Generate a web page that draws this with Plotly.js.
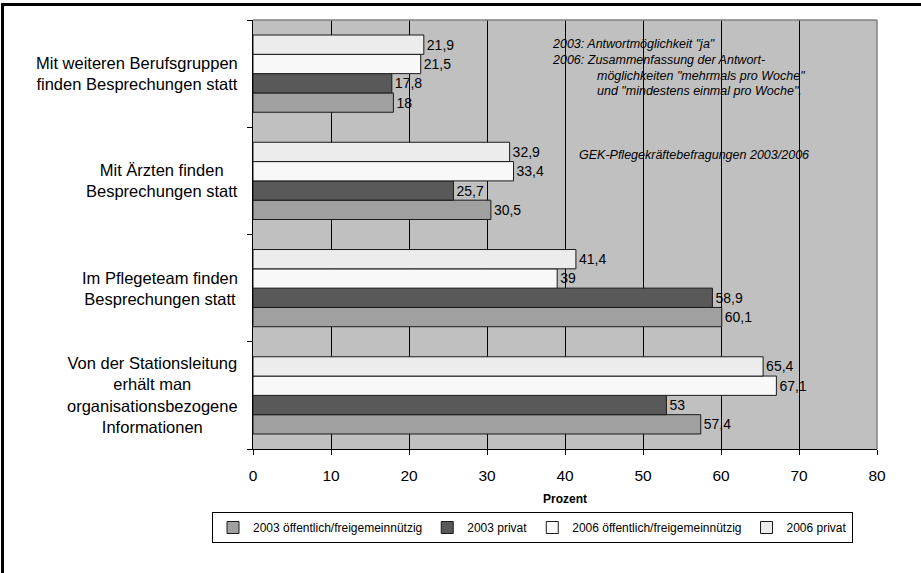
<!DOCTYPE html>
<html>
<head>
<meta charset="utf-8">
<script src="https://cdn.plot.ly/plotly-3.0.1.min.js"></script>
<style>
  html, body { margin: 0; padding: 0; background: #fff; overflow: hidden; }
  #chart { width: 921px; height: 573px; position: absolute; left: 0; top: 0; }
  #frame { position: absolute; left: 1px; top: 3px; width: 1000px; height: 1000px;
           border-left: 3px solid #000; border-top: 3px solid #000; pointer-events: none; }
</style>
</head>
<body>
<div id="chart"></div>
<div id="frame"></div>
<script>
// Categories, top to bottom as shown
const categories = [
  "Mit weiteren Berufsgruppen<br>finden Besprechungen statt",
  "Mit Ärzten finden<br>Besprechungen statt",
  "Im Pflegeteam finden<br>Besprechungen statt",
  "Von der Stationsleitung<br>erhält man<br>organisationsbezogene<br>Informationen"
];
const seriesNames = [
  "2003 öffentlich/freigemeinnützig",
  "2003 privat",
  "2006 öffentlich/freigemeinnützig",
  "2006 privat"
];
const v2003oeff = [18, 30.5, 60.1, 57.4];
const v2003priv = [17.8, 25.7, 58.9, 53];
const v2006oeff = [21.5, 33.4, 39, 67.1];
const v2006priv = [21.9, 32.9, 41.4, 65.4];
const xTicks = [0, 10, 20, 30, 40, 50, 60, 70, 80];

const seriesValues = [v2003oeff, v2003priv, v2006oeff, v2006priv];
const seriesColors = ["#a0a0a0", "#595959", "#f8f8f8", "#ececec"];

const FONT = "'Liberation Sans', Arial, sans-serif";
const fmt = v => String(v).replace(".", ",");

const traces = seriesValues.map((vals, i) => ({
  type: "bar",
  orientation: "h",
  name: seriesNames[i],
  y: categories,
  x: vals,
  text: vals.map(fmt),
  textposition: "outside",
  textfont: { family: FONT, size: 14, color: "#000" },
  cliponaxis: false,
  marker: { color: seriesColors[i], line: { color: "#1a1a1a", width: 1 } },
  hoverinfo: "x+name"
}));

const L = 253, R = 877, T = 20, B = 449;
const W = R - L, H = B - T;
const px = x => (x - L) / W;
const py = y => 1 - (y - T) / H;

const noteFont = { family: FONT, size: 12.5, color: "#000", style: "italic" };
const annotations = [
  { text: "2003: Antwortmöglichkeit \"ja\"", x: px(550), y: py(44) },
  { text: "2006: Zusammenfassung der Antwort-", x: px(550), y: py(60) },
  { text: "möglichkeiten \"mehrmals pro Woche\"", x: px(595), y: py(76) },
  { text: "und \"mindestens einmal pro Woche\".", x: px(595), y: py(91) },
  { text: "GEK-Pflegekräftebefragungen 2003/2006", x: px(577), y: py(155) }
].map(a => Object.assign({ xref: "paper", yref: "paper", xanchor: "left", yanchor: "middle",
  showarrow: false, font: noteFont }, a));

categories.forEach(c => annotations.push({
  text: c, xref: "paper", yref: "y", x: px(240), y: c,
  xanchor: "right", yanchor: "middle", align: "center", showarrow: false,
  font: { family: FONT, size: 16.5, color: "#000" }
}));

const layout = {
  width: 921, height: 573,
  margin: { l: L, r: 921 - R, t: T, b: 573 - B, pad: 0, autoexpand: false },
  paper_bgcolor: "#ffffff",
  plot_bgcolor: "#c0c0c0",
  separators: ",.",
  barmode: "group",
  bargap: 0.28,
  bargroupgap: 0,
  font: { family: FONT, color: "#000" },
  xaxis: {
    range: [0, 80],
    tickvals: xTicks,
    ticktext: xTicks.map(String),
    ticks: "outside", ticklen: 5, tickcolor: "#000",
    ticklabelstandoff: 7,
    showgrid: true, gridcolor: "#000", gridwidth: 1,
    zeroline: false,
    showline: true, linecolor: "#000", linewidth: 1,
    tickfont: { family: FONT, size: 15.5, color: "#000" },
    title: { text: "<b>Prozent</b>", font: { family: FONT, size: 12, color: "#000" }, standoff: 12 },
    fixedrange: true
  },
  yaxis: {
    type: "category",
    categoryorder: "array",
    categoryarray: categories.slice().reverse(),
    showticklabels: false,
    ticks: "outside", ticklen: 5, tickcolor: "#000",
    tickson: "boundaries",
    showgrid: false, zeroline: false,
    showline: true, linecolor: "#000", linewidth: 1,
    fixedrange: true
  },
  shapes: [
    { type: "line", xref: "paper", yref: "paper", x0: 0, x1: 1, y0: 1, y1: 1,
      line: { color: "#808080", width: 1.5 }, layer: "above" },
    { type: "line", xref: "paper", yref: "paper", x0: 1, x1: 1, y0: 0, y1: 1,
      line: { color: "#808080", width: 1.5 }, layer: "above" }
  ],
  showlegend: true,
  legend: {
    orientation: "h",
    x: px(212), xanchor: "left",
    y: py(512), yanchor: "top",
    traceorder: "normal",
    bordercolor: "#000", borderwidth: 1, bgcolor: "#fff",
    font: { family: FONT, size: 12, color: "#000" },
    itemwidth: 30,
    tracegroupgap: 0
  },
  annotations: annotations
};

Plotly.newPlot("chart", traces, layout, { staticPlot: true, displayModeBar: false });
</script>
</body>
</html>
